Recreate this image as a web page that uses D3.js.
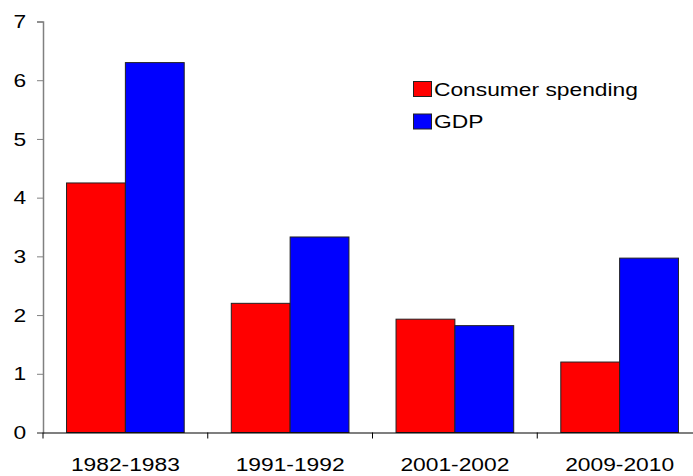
<!DOCTYPE html>
<html><head><meta charset="utf-8">
<script src="https://cdn.jsdelivr.net/npm/d3@7"></script>
<style>body{margin:0;background:#fff}svg{display:block}text{font-family:"Liberation Sans",Arial,sans-serif;fill:#000}</style>
</head><body><svg id="c" width="693" height="476"></svg>
<script>
const categories = ["1982-1983","1991-1992","2001-2002","2009-2010"];
const seriesNames = ["Consumer spending","GDP"];
const consumerSpending = [4.25, 2.2, 1.93, 1.2];
const gdp = [6.3, 3.33, 1.82, 2.97];
const yTicks = [0,1,2,3,4,5,6,7];
const colors = ["#ff0000","#0000ff"];

(function(){
const svg = d3.select("#c");
const mLeft = 43, mRight = 702, mTop = 21.5, mBottom = 432.5;
const sx = 1.2, fs = 19;
const x = d3.scaleBand().domain(categories).range([mLeft, mRight]).paddingInner(0).paddingOuter(0);
const y = d3.scaleLinear().domain([0,7]).range([mBottom, mTop]);
const inner = d3.scaleBand().domain(seriesNames).range([0, x.bandwidth()]).paddingOuter(0.4).paddingInner(0);

const data = [consumerSpending, gdp];
const g = svg.append("g");
categories.forEach((c,i)=>{
  seriesNames.forEach((s,j)=>{
    g.append("rect")
      .attr("x", x(c)+inner(s))
      .attr("y", y(data[j][i]))
      .attr("width", inner.bandwidth())
      .attr("height", y(0)-y(data[j][i]))
      .attr("fill", colors[j])
      .attr("stroke", "#222").attr("stroke-width", 1);
  });
});

const ya = svg.append("g").attr("transform", `translate(${mLeft},0)`)
  .call(d3.axisLeft(y).tickValues(yTicks).tickSize(6).tickPadding(8).tickFormat(d3.format("d")));
ya.select(".domain").attr("stroke","#808080").attr("stroke-width",1.5);
ya.selectAll(".tick line").attr("stroke","#808080");
ya.selectAll("text").style("font-size",fs+"px").attr("transform",`scale(${sx},1)`);

const xa = svg.append("g").attr("transform", `translate(0,${mBottom})`)
  .call(d3.axisBottom(x).tickSize(0).tickPadding(25));
xa.select(".domain").attr("stroke","#000").attr("stroke-width",1.2);
xa.selectAll("text").style("font-size",fs+"px").attr("transform",`scale(${sx},1)`);
const bounds = categories.map(c=>x(c));
svg.append("g").selectAll("line").data(bounds).join("line")
  .attr("x1", d=>d).attr("x2", d=>d).attr("y1", mBottom).attr("y2", mBottom+6)
  .attr("stroke","#000");

const lg = svg.append("g").attr("transform","translate(413,81)");
seriesNames.forEach((s,j)=>{
  const row = lg.append("g").attr("transform",`translate(0,${j*32.5})`);
  row.append("rect").attr("x",0.5).attr("y",0.5).attr("width",18).attr("height",15)
    .attr("fill",colors[j]).attr("stroke","#222");
  row.append("text").attr("transform",`translate(21,0) scale(${sx},1)`).attr("y",8).attr("dy","0.35em")
    .style("font-size",fs+"px").text(s);
});
})();
</script></body></html>
